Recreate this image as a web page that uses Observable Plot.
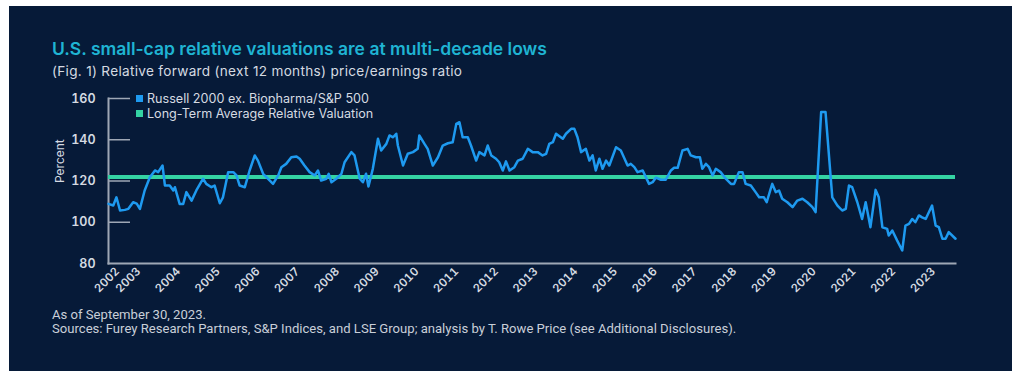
<!DOCTYPE html>
<html>
<head>
<meta charset="utf-8">
<script src="https://cdn.jsdelivr.net/npm/d3@7"></script>
<script src="https://cdn.jsdelivr.net/npm/@observablehq/plot@0.6"></script>
<style>
html, body { margin: 0; padding: 0; background: #ffffff; }
body { width: 1024px; height: 380px; position: relative; overflow: hidden; font-family: Inter, Roboto, "Noto Sans", sans-serif; }
#panel { position: absolute; left: 9px; top: 6px; width: 1003px; height: 365px; background: #061a38; }
.t { position: absolute; white-space: nowrap; }
#title { left: 52px; top: 40px; font-size: 17.5px; line-height: 17.5px; font-weight: 600; color: #1fb4d3; }
#subtitle { left: 52px; top: 64.5px; font-size: 13.6px; line-height: 13.5px; letter-spacing: 0.3px; color: #d5dae2; }
.lg { position: absolute; left: 147px; font-size: 12.6px; line-height: 15px; color: #d5dae2; white-space: nowrap; }
.sw { position: absolute; width: 7px; height: 7px; left: 136px; }
#chart { position: absolute; left: 9px; top: 85px; }
#footer { left: 52px; top: 308px; font-family: Roboto, "Noto Sans", sans-serif; font-size: 13.1px; line-height: 13.5px; color: #c9cfd8; }
</style>
</head>
<body>
<div id="panel"></div>
<div id="title" class="t">U.S. small-cap relative valuations are at multi-decade lows</div>
<div id="subtitle" class="t">(Fig. 1) Relative forward (next 12 months) price/earnings ratio</div>
<div id="chart"></div>
<div id="legend"></div>
<div id="footer" class="t">As of September 30, 2023.<br>Sources: Furey Research Partners, S&amp;P Indices, and LSE Group; analysis by T. Rowe Price (see Additional Disclosures).</div>
<script>
// ---- data ----
const seriesNames = ["Russell 2000 ex. Biopharma/S&P 500", "Long-Term Average Relative Valuation"];
const seriesColors = ["#1e9af0", "#34d3a3"];

// decimal years
const dates = [
  2002.47,2002.59,2002.67,2002.76,2002.88,2002.97,2003.09,2003.18,2003.26,2003.38,
  2003.51,2003.64,2003.72,2003.83,2003.89,2004.01,2004.10,2004.14,2004.26,2004.35,
  2004.43,2004.56,2004.68,2004.85,2004.93,2005.06,2005.14,2005.27,2005.35,2005.48,
  2005.61,2005.69,2005.77,2005.90,2006.02,2006.15,2006.23,2006.36,2006.48,2006.61,
  2006.74,2006.82,2006.94,2007.07,2007.20,2007.28,2007.40,2007.53,2007.66,2007.74,
  2007.82,2007.95,2008.01,2008.08,2008.20,2008.33,2008.41,2008.58,2008.66,2008.79,
  2008.87,2008.95,2009.01,2009.12,2009.25,2009.33,2009.46,2009.54,2009.63,2009.71,
  2009.75,2009.88,2010.00,2010.13,2010.25,2010.29,2010.42,2010.50,2010.63,2010.76,
  2010.88,2011.01,2011.13,2011.22,2011.30,2011.38,2011.51,2011.59,2011.72,2011.80,
  2011.93,2012.01,2012.10,2012.22,2012.30,2012.39,2012.47,2012.56,2012.68,2012.77,
  2012.89,2013.02,2013.14,2013.27,2013.39,2013.48,2013.56,2013.65,2013.73,2013.90,
  2013.98,2014.11,2014.19,2014.27,2014.36,2014.48,2014.57,2014.65,2014.73,2014.82,
  2014.90,2014.99,2015.07,2015.24,2015.36,2015.53,2015.61,2015.70,2015.78,2015.91,
  2016.07,2016.16,2016.24,2016.37,2016.49,2016.62,2016.70,2016.79,2016.91,2017.04,
  2017.12,2017.25,2017.35,2017.41,2017.50,2017.58,2017.67,2017.75,2017.87,2018.00,
  2018.13,2018.21,2018.33,2018.42,2018.50,2018.63,2018.75,2018.84,2018.96,2019.03,
  2019.13,2019.17,2019.26,2019.34,2019.42,2019.55,2019.68,2019.80,2019.93,2020.05,
  2020.18,2020.26,2020.40,2020.51,2020.60,2020.68,2020.81,2020.93,2021.02,2021.10,
  2021.18,2021.31,2021.43,2021.52,2021.64,2021.77,2021.85,2021.94,2022.06,2022.10,
  2022.19,2022.31,2022.44,2022.52,2022.61,2022.69,2022.77,2022.86,2022.94,2023.03,
  2023.19,2023.28,2023.36,2023.45,2023.53,2023.61,2023.78
];
const relativePE = [
  108.9,108.1,112.1,105.7,106.0,106.5,109.7,109.0,106.5,115.4,
  121.8,125.1,124.3,127.5,117.8,117.8,115.4,117.0,108.9,108.9,
  114.6,110.5,115.4,121.1,118.6,117.0,117.8,109.2,112.1,124.3,
  124.3,122.7,117.8,117.0,125.1,132.4,129.9,123.5,121.1,118.6,
  122.7,126.7,128.3,131.5,131.9,130.8,127.5,124.3,122.7,125.1,
  120.2,121.1,123.5,119.4,121.1,123.5,129.1,134.0,132.4,121.1,
  119.4,123.5,117.3,125.9,140.5,134.8,138.0,142.1,141.2,142.9,
  137.2,127.5,133.2,134.0,135.6,142.1,138.0,135.6,127.5,131.5,
  137.2,138.3,138.8,147.7,148.5,141.2,141.2,137.2,129.9,134.0,
  132.4,137.2,132.4,130.8,129.1,125.1,129.5,125.1,126.7,129.9,
  130.8,135.6,134.0,134.0,132.4,133.2,138.0,138.8,142.9,140.5,
  142.9,145.3,145.3,141.2,134.0,135.6,129.9,132.4,125.1,130.8,
  125.9,129.9,127.5,136.4,134.8,127.5,128.3,126.7,124.3,125.1,
  118.6,119.4,121.6,120.6,120.6,125.1,126.4,126.4,134.8,135.6,
  132.4,131.5,131.5,125.9,128.3,126.7,122.7,125.9,124.3,121.1,
  118.6,118.6,124.3,124.3,118.6,117.8,114.6,112.1,112.1,109.7,
  116.2,118.6,114.6,115.4,111.4,109.7,107.3,110.5,111.4,109.7,
  107.3,104.9,153.4,153.4,131.5,112.1,108.1,105.7,106.5,117.8,
  117.0,109.7,101.6,109.7,97.6,115.7,112.1,97.6,96.8,93.6,
  96.0,91.2,86.3,98.4,99.2,101.6,100.0,103.3,102.4,101.6,
  108.1,98.4,97.6,92.0,92.0,95.2,92.0
];
const longTermAverage = 122;

const yTicks = [80, 100, 120, 140, 160];
const xTicks = [2002.47, 2003, 2004, 2005, 2006, 2007, 2008, 2009, 2010, 2011, 2012,
                2013, 2014, 2015, 2016, 2017, 2018, 2019, 2020, 2021, 2022, 2023];
const xTickLabels = ["2002","2003","2004","2005","2006","2007","2008","2009","2010","2011","2012",
                     "2013","2014","2015","2016","2017","2018","2019","2020","2021","2022","2023"];
const yLabel = "Percent";

// ---- build ----
const rows = dates.map((d, i) => ({date: d, value: relativePE[i]}));
const labelOf = new Map(xTicks.map((t, i) => [t, xTickLabels[i]]));

const W = 1003, H = 215, ML = 99, MR = 57, MT = 13, MB = 37;
const frameW = W - ML - MR;
const axisColor = "#9ea7b5";
const textColor = "#d5dae2";

const chart = Plot.plot({
  width: W, height: H,
  marginLeft: ML, marginRight: MR, marginTop: MT, marginBottom: MB,
  x: {domain: [dates[0], dates[dates.length - 1]]},
  y: {domain: [yTicks[0], yTicks[yTicks.length - 1]]},
  style: {background: "transparent", color: textColor, fontFamily: "Inter, Roboto, 'Noto Sans', sans-serif"},
  marks: [
    Plot.ruleY(yTicks.slice(1), {stroke: axisColor, strokeWidth: 1.5, insetRight: frameW - 22}),
    Plot.frame({anchor: "left", stroke: axisColor, strokeWidth: 2}),
    Plot.frame({anchor: "bottom", stroke: axisColor, strokeWidth: 2}),
    Plot.axisY({ticks: yTicks, tickSize: 0, tickPadding: 13, label: null, fontSize: 12.5, fontWeight: 600, fill: textColor}),
    Plot.axisX({ticks: xTicks, tickFormat: d => labelOf.get(d), tickRotate: -45, tickSize: 0, tickPadding: 6, dx: 9,
                label: null, fontSize: 11.5, fontWeight: 600, fill: textColor}),
    Plot.text([yLabel], {frameAnchor: "left", rotate: -90, dx: -48, dy: 2, fontSize: 12, fill: textColor}),
    Plot.ruleY([longTermAverage], {stroke: seriesColors[1], strokeWidth: 4}),
    Plot.line(rows, {x: "date", y: "value", stroke: seriesColors[0], strokeWidth: 2.5, strokeLinejoin: "round"})
  ]
});
document.getElementById("chart").appendChild(chart);

// legend
const legend = document.getElementById("legend");
seriesNames.forEach((name, i) => {
  const top = 90.5 + i * 15;
  const sw = document.createElement("div");
  sw.className = "sw";
  sw.style.top = (top + 4) + "px";
  sw.style.background = seriesColors[i];
  legend.appendChild(sw);
  const lab = document.createElement("div");
  lab.className = "lg";
  lab.style.top = top + "px";
  lab.textContent = name;
  legend.appendChild(lab);
});
</script>
</body>
</html>
